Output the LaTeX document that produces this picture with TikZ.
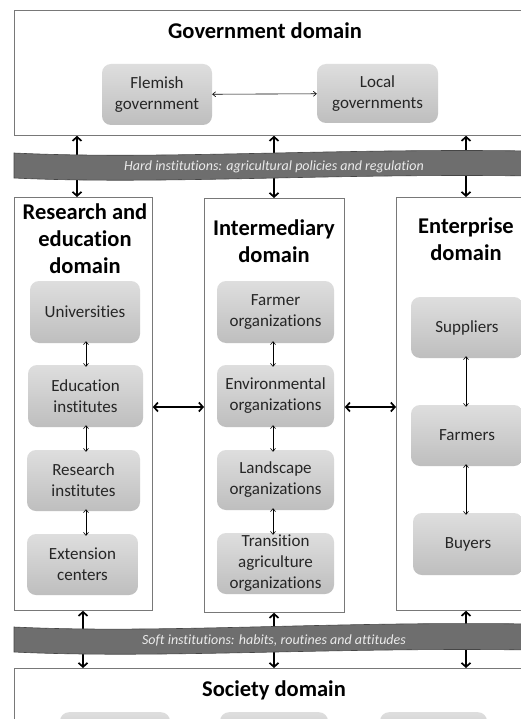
\documentclass[tikz,border=0pt]{standalone}
\usepackage{fontspec}
\setmainfont{Carlito}[Ligatures={NoCommon}]
\usetikzlibrary{arrows.meta}
\definecolor{boxtop}{RGB}{222,222,222}
\definecolor{boxbot}{RGB}{190,190,190}
\definecolor{bandfill}{RGB}{110,110,110}
\definecolor{bandline}{RGB}{70,70,70}
\definecolor{frame}{RGB}{120,120,120}
\begin{document}
\begin{tikzpicture}[x=1pt,y=-1pt,
 domainbox/.style={draw=frame, line width=0.8pt, fill=white},
 innerbox/.style={rounded corners=9pt, top color=boxtop, bottom color=boxbot, draw=none, align=center,
   font=\fontsize{17}{21}\selectfont, text=black!85, inner sep=0pt},
 titletext/.style={font=\fontsize{22.5}{27}\selectfont\bfseries, align=center, inner sep=0pt},
 thickarr/.style={{Straight Barb[length=4pt,width=9pt]}-{Straight Barb[length=4pt,width=9pt]}, line width=1.7pt},
 thinarr/.style={{Straight Barb[length=3pt,width=5pt]}-{Straight Barb[length=3pt,width=5pt]}, line width=0.6pt},
 band/.style={fill=bandfill, draw=bandline, line width=0.6pt},
 bandtext/.style={font=\fontsize{14}{17}\selectfont\itshape, text=white!92!black, inner sep=0pt}]
\useasboundingbox (0,0) rectangle (521,719);
\fill[white] (0,0) rectangle (521,719);

% domain boxes
\node[domainbox, minimum width=520pt, minimum height=125pt, anchor=north west] (gov) at (14,10) {};
\node[domainbox, minimum width=138pt, minimum height=413pt, anchor=north west] (res) at (14,197) {};
\node[domainbox, minimum width=140pt, minimum height=414pt, anchor=north west] (int) at (204,198) {};
\node[domainbox, minimum width=140pt, minimum height=413pt, anchor=north west] (ent) at (396,197) {};
\node[domainbox, minimum width=520pt, minimum height=80pt, anchor=north west] (soc) at (14,668) {};

% titles
\node[titletext] (govt) at (265,31) {Government domain};
\node[titletext] (rest) at (85,239) {Research and\\education\\domain};
\node[titletext] (intt) at (274,241) {Intermediary\\domain};
\node[titletext] (entt) at (466,239) {Enterprise\\domain};
\node[titletext] (soct) at (274,690) {Society domain};

% government inner
\node[innerbox, minimum width=110pt, minimum height=61pt] (flem) at (157,94.5) {Flemish\\government};
\node[innerbox, minimum width=121pt, minimum height=59pt] (loc) at (377.5,93.5) {Local\\governments};
\draw[thinarr] (flem) -- (loc);

% research inner
\node[innerbox, minimum width=110pt, minimum height=62pt] (uni) at (85,312) {Universities};
\node[innerbox, minimum width=115pt, minimum height=62pt] (edu) at (85.5,396) {Education\\institutes};
\node[innerbox, minimum width=113pt, minimum height=61pt] (rin) at (83.5,480.5) {Research\\institutes};
\node[innerbox, minimum width=111pt, minimum height=61pt] (ext) at (82.5,564.5) {Extension\\centers};
\draw[thinarr] ([yshift=2pt]uni.south -| 86,0) -- ([yshift=-2pt]edu.north -| 86,0);
\draw[thinarr] ([yshift=2pt]edu.south -| 86,0) -- ([yshift=-2pt]rin.north -| 86,0);
\draw[thinarr] ([yshift=2pt]rin.south -| 86,0) -- ([yshift=-2pt]ext.north -| 86,0);

% intermediary inner
\node[innerbox, minimum width=117pt, minimum height=62pt] (far) at (275.5,312) {Farmer\\organizations};
\node[innerbox, minimum width=117pt, minimum height=62pt] (env) at (275.5,396) {Environmental\\organizations};
\node[innerbox, minimum width=117pt, minimum height=60pt] (lan) at (275.5,480) {Landscape\\organizations};
\node[innerbox, minimum width=117pt, minimum height=61pt] (tra) at (275.5,563.5) {Transition\\agriculture\\organizations};
\draw[thinarr] ([yshift=2pt]far.south -| 273,0) -- ([yshift=-2pt]env.north -| 273,0);
\draw[thinarr] ([yshift=2pt]env.south -| 273,0) -- ([yshift=-2pt]lan.north -| 273,0);
\draw[thinarr] ([yshift=2pt]lan.south -| 273,0) -- ([yshift=-2pt]tra.north -| 273,0);

% enterprise inner
\node[innerbox, minimum width=112pt, minimum height=61pt] (sup) at (467,327.5) {Suppliers};
\node[innerbox, minimum width=112pt, minimum height=61pt] (frm) at (467,435.5) {Farmers};
\node[innerbox, minimum width=110pt, minimum height=62pt] (buy) at (468,544) {Buyers};
\draw[thinarr] ([yshift=2pt]sup.south -| 466,0) -- ([yshift=-2pt]frm.north -| 466,0);
\draw[thinarr] ([yshift=2pt]frm.south -| 466,0) -- ([yshift=-2pt]buy.north -| 466,0);

% society inner (cut off)
\node[innerbox, minimum width=110pt, minimum height=40pt, anchor=north] (soc1) at (115,712) {};
\node[innerbox, minimum width=108pt, minimum height=40pt, anchor=north] (soc2) at (274,712) {};
\node[innerbox, minimum width=107pt, minimum height=40pt, anchor=north] (soc3) at (433.5,712) {};

% horizontal thick arrows
\draw[thickarr] (res.east |- 0,407) -- (int.west |- 0,407);
\draw[thickarr] (int.east |- 0,407) -- (ent.west |- 0,407);

% vertical thick arrows
\draw[thickarr] (gov.south -| 77,0) -- (res.north -| 77,0);
\draw[thickarr] (gov.south -| 274,0) -- (int.north -| 274,0);
\draw[thickarr] (gov.south -| 466,0) -- (ent.north -| 466,0);
\draw[thickarr] (res.south -| 83,0) -- (soc.north -| 83,0);
\draw[thickarr] (int.south -| 274,0) -- (soc.north -| 274,0);
\draw[thickarr] (ent.south -| 466,0) -- (soc.north -| 466,0);

% bands
\draw[band] (14,153) .. controls (160,160) and (330,148) .. (530,151)
  -- (530,176) .. controls (330,173) and (160,185) .. (14,178) -- cycle;
\node[bandtext] (hard) at (274,166.5) {Hard institutions: agricultural policies and regulation};
\draw[band] (14,627) .. controls (160,634) and (330,621) .. (530,624)
  -- (530,650) .. controls (330,647) and (160,659) .. (14,652) -- cycle;
\node[bandtext] (soft) at (274,640.5) {Soft institutions: habits, routines and attitudes};
\end{tikzpicture}
\end{document}
